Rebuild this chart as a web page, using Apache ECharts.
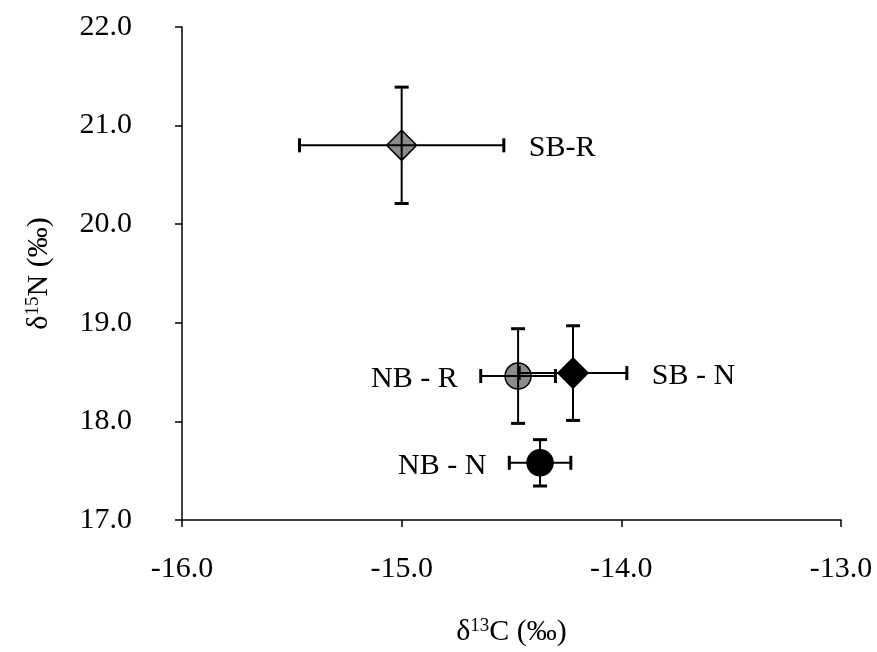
<!DOCTYPE html>
<html>
<head>
<meta charset="utf-8">
<script src="https://cdn.jsdelivr.net/npm/echarts@6/dist/echarts.min.js"></script>
<style>
html,body{margin:0;padding:0;background:#fff;}
#chart{width:877px;height:652px;}
</style>
</head>
<body>
<div id="chart"></div>
<script>
// Data
var labels = ['SB-R', 'SB - N', 'NB - R', 'NB - N'];
var d13C = [-15.0, -14.22, -14.47, -14.37];
var d15N = [20.80, 18.49, 18.46, 17.58];
var errC = [0.465, 0.245, 0.17, 0.14];
var errN = [0.59, 0.48, 0.48, 0.235];
var labelSide = ['right', 'right', 'left', 'left'];
var markerShape = ['diamond', 'diamond', 'circle', 'circle'];
var markerFill = ['#8c8c8c', '#000000', '#8c8c8c', '#000000'];
var xTicks = [-16, -15, -14, -13];
var yTicks = [17, 18, 19, 20, 21, 22];

var FONT = '"Liberation Serif", "Times New Roman", serif';
var chart = echarts.init(document.getElementById('chart'));

var scatterData = d13C.map(function (x, i) {
  return {
    value: [x, d15N[i]],
    symbol: markerShape[i],
    symbolSize: markerShape[i] === 'diamond' ? 30 : 26,
    itemStyle: { color: markerFill[i], borderColor: '#000', borderWidth: 1.5, opacity: 1 }
  };
});

var errData = d13C.map(function (x, i) {
  return [x, d15N[i], errC[i], errN[i], i];
});

function renderErr(params, api) {
  var x = api.value(0), y = api.value(1), ex = api.value(2), ey = api.value(3), idx = api.value(4);
  var c = api.coord([x, y]);
  var l = api.coord([x - ex, y]);
  var r = api.coord([x + ex, y]);
  var t = api.coord([x, y + ey]);
  var b = api.coord([x, y - ey]);
  var cap = 7;
  var ls = { stroke: '#000', lineWidth: 2 };
  var cs = { stroke: '#000', lineWidth: 3 };
  var children = [
    { type: 'line', shape: { x1: l[0], y1: l[1], x2: r[0], y2: r[1] }, style: ls },
    { type: 'line', shape: { x1: t[0], y1: t[1], x2: b[0], y2: b[1] }, style: ls },
    { type: 'line', shape: { x1: l[0], y1: l[1] - cap, x2: l[0], y2: l[1] + cap }, style: cs },
    { type: 'line', shape: { x1: r[0], y1: r[1] - cap, x2: r[0], y2: r[1] + cap }, style: cs },
    { type: 'line', shape: { x1: t[0] - cap, y1: t[1], x2: t[0] + cap, y2: t[1] }, style: cs },
    { type: 'line', shape: { x1: b[0] - cap, y1: b[1], x2: b[0] + cap, y2: b[1] }, style: cs }
  ];
  var side = labelSide[idx];
  var gap = 25;
  children.push({
    type: 'text',
    style: {
      text: labels[idx],
      x: side === 'right' ? r[0] + gap : l[0] - gap + 2,
      y: c[1] + 3,
      align: side === 'right' ? 'left' : 'right',
      verticalAlign: 'middle',
      font: '30px ' + FONT,
      fill: '#000'
    }
  });
  return { type: 'group', children: children };
}

var option = {
  backgroundColor: '#fff',
  animation: false,
  grid: { left: 182, right: 36, top: 27, bottom: 131, containLabel: false },
  xAxis: {
    type: 'value', min: xTicks[0], max: xTicks[xTicks.length - 1], interval: 1,
    name: 'δ{s|13}C (‰)', nameLocation: 'middle', nameGap: 97,
    nameTextStyle: { fontFamily: FONT, fontSize: 30, color: '#000',
      rich: { s: { fontFamily: FONT, fontSize: 19, verticalAlign: 'top', color: '#000' } } },
    axisLine: { onZero: false, lineStyle: { color: '#000', width: 1.5 } },
    axisTick: { show: true, inside: false, length: 7, lineStyle: { color: '#000', width: 1.5 } },
    axisLabel: { color: '#000', fontFamily: FONT, fontSize: 30, margin: 34,
      formatter: function (v) { return v.toFixed(1); } },
    splitLine: { show: false }
  },
  yAxis: {
    type: 'value', min: yTicks[0], max: yTicks[yTicks.length - 1], interval: 1,
    name: 'δ{s|15}N (‰)', nameLocation: 'middle', nameGap: 128,
    nameTextStyle: { fontFamily: FONT, fontSize: 30, color: '#000',
      rich: { s: { fontFamily: FONT, fontSize: 19, verticalAlign: 'top', color: '#000' } } },
    axisLine: { show: true, onZero: false, lineStyle: { color: '#000', width: 1.5 } },
    axisTick: { show: true, inside: false, length: 7, lineStyle: { color: '#000', width: 1.5 } },
    axisLabel: { color: '#000', fontFamily: FONT, fontSize: 30, margin: 50,
      formatter: function (v) { return v.toFixed(1); } },
    splitLine: { show: false }
  },
  series: [
    {
      type: 'scatter',
      data: scatterData,
      z: 2
    },
    {
      type: 'custom',
      renderItem: renderErr,
      data: errData,
      z: 3,
      encode: { x: 0, y: 1 }
    }
  ]
};
chart.setOption(option);
</script>
</body>
</html>
